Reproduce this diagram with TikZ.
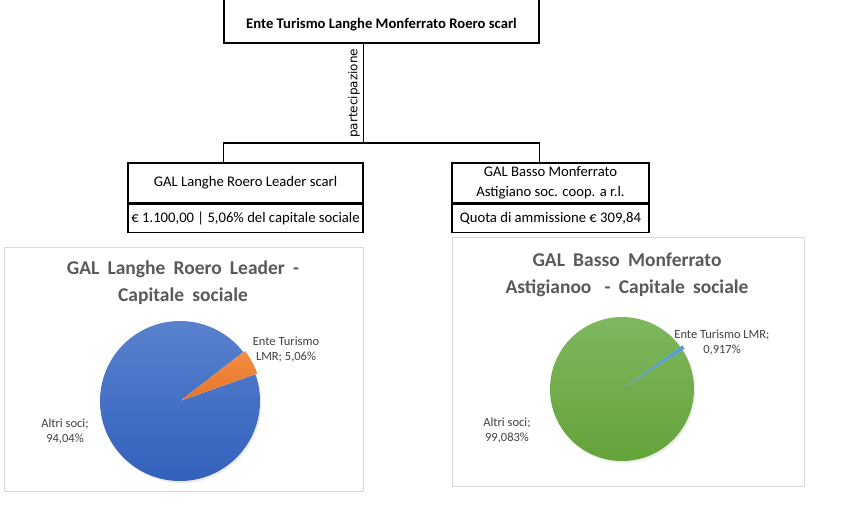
\documentclass[tikz,border=0pt]{standalone}
\usepackage{fontspec}
\setmainfont{Carlito}
\newfontfamily\labelfont{DejaVu Sans}
\usetikzlibrary{positioning, calc}

\definecolor{frameGray}{HTML}{D9D9D9}
\definecolor{titleGray}{HTML}{595959}
\definecolor{textGray}{HTML}{404040}
\definecolor{blueTop}{HTML}{5B84CE}
\definecolor{blueBot}{HTML}{305EBB}
\definecolor{orangeTop}{HTML}{F28E44}
\definecolor{orangeBot}{HTML}{E87328}
\definecolor{greenTop}{HTML}{80B862}
\definecolor{greenBot}{HTML}{62A236}
\definecolor{sliceBlue}{HTML}{5B9BD5}
\newcommand{\charttitlefont}{\fontsize{19.5}{26.5}\selectfont\bfseries\spaceskip 0.42em\relax}

\begin{document}
\begin{tikzpicture}[x=1pt, y=1pt,
	font=\fontsize{14.67}{20}\selectfont,
	orgbox/.style={draw, line width=1.2pt, inner sep=0pt, align=center},
	chartframe/.style={draw=frameGray, line width=1pt},
	charttitle/.style={font=\charttitlefont, text=titleGray, align=center},
	pielabel/.style={font=\fontsize{12.5}{15}\selectfont, text=textGray, align=center}]
	\useasboundingbox (0, 0) rectangle (841, -512);
	% organigramma
	\node[orgbox, minimum width=315, minimum height=47, text height=20, text depth=2] (ente) at (381.5, -19.5) {\bfseries Ente Turismo Langhe Monferrato Roero scarl};
	\node[orgbox, minimum width=235, minimum height=40] (gallname) at (245.5, -183) {GAL Langhe Roero Leader scarl};
	\node[orgbox, minimum width=235, minimum height=28, below=0pt of gallname] (gallquota) {€ 1.100,00 | 5,06\% del capitale sociale};
	\node[orgbox, minimum width=197, minimum height=40] (gbmname) at (550.5, -183) {GAL Basso Monferrato\\Astigiano soc. coop. a r.l.};
	\node[orgbox, minimum width=197, minimum height=28, below=0pt of gbmname] (gbmquota) {Quota di ammissione € 309,84};
	\coordinate (fork) at (363.5, -143);
	\draw[line width=1.2pt] (ente.south -| fork) -- (fork);
	\draw[line width=1.2pt] (ente.south west |- fork) -- (ente.south east |- fork);
	\draw[line width=1.2pt] (ente.south west |- fork) -- (ente.south west |- gallname.north);
	\draw[line width=1.2pt] (ente.south east |- fork) -- (ente.south east |- gbmname.north);
	\node[rotate=90, anchor=south, font=\labelfont\fontsize{12}{14}\selectfont] (part) at ($(ente.south -| fork)!0.5!(fork)$) {partecipazione};
	% grafico GAL Langhe Roero Leader
	\draw[chartframe] (4, -247) rectangle (363, -491);
	\node[charttitle] (galltitle) at (183, -282.5) {GAL Langhe Roero Leader -\\Capitale sociale};
	\coordinate (gallc) at (180, -401);
	\fill[black!8] ($(gallc)+(1.5, -2)$) circle[radius=80pt];
	\shade[top color=blueTop, bottom color=blueBot] (gallc) -- ++(37.7:80pt) arc[start angle=37.7, end angle=379.5, radius=80pt] -- cycle;
	\shade[top color=orangeTop, bottom color=orangeBot] ($(gallc)+(28.6:1pt)$) -- ++(19.5:81pt) arc[start angle=19.5, end angle=37.7, radius=81pt] -- cycle;
	\node[pielabel] (gallente) at (286, -349.5) {Ente Turismo\\LMR; 5,06\%};
	\node[pielabel] (gallaltri) at (65, -431) {Altri soci;\\94,04\%};
	% grafico GAL Basso Monferrato Astigiano
	\draw[chartframe] (452, -237) rectangle (804, -486);
	\node[charttitle] (gbmtitle) at (627, -275) {GAL Basso Monferrato\\Astigianoo\hspace{5pt} - Capitale sociale};
	\coordinate (gbmc) at (622, -389);
	\fill[black!8] ($(gbmc)+(1.5, -2)$) circle[radius=72pt];
	\shade[top color=greenTop, bottom color=greenBot] (gbmc) -- ++(35.9:72pt) arc[start angle=35.9, end angle=392.6, radius=72pt] -- cycle;
	\fill[sliceBlue] ($(gbmc)+(34.2:1.5pt)$) -- ++(32.6:73pt) arc[start angle=32.6, end angle=35.9, radius=73pt] -- cycle;
	\node[pielabel] (gbmente) at (722, -342) {Ente Turismo LMR;\\0,917\%};
	\node[pielabel] (gbmaltri) at (507, -430.5) {Altri soci;\\99,083\%};
\end{tikzpicture}
\end{document}
